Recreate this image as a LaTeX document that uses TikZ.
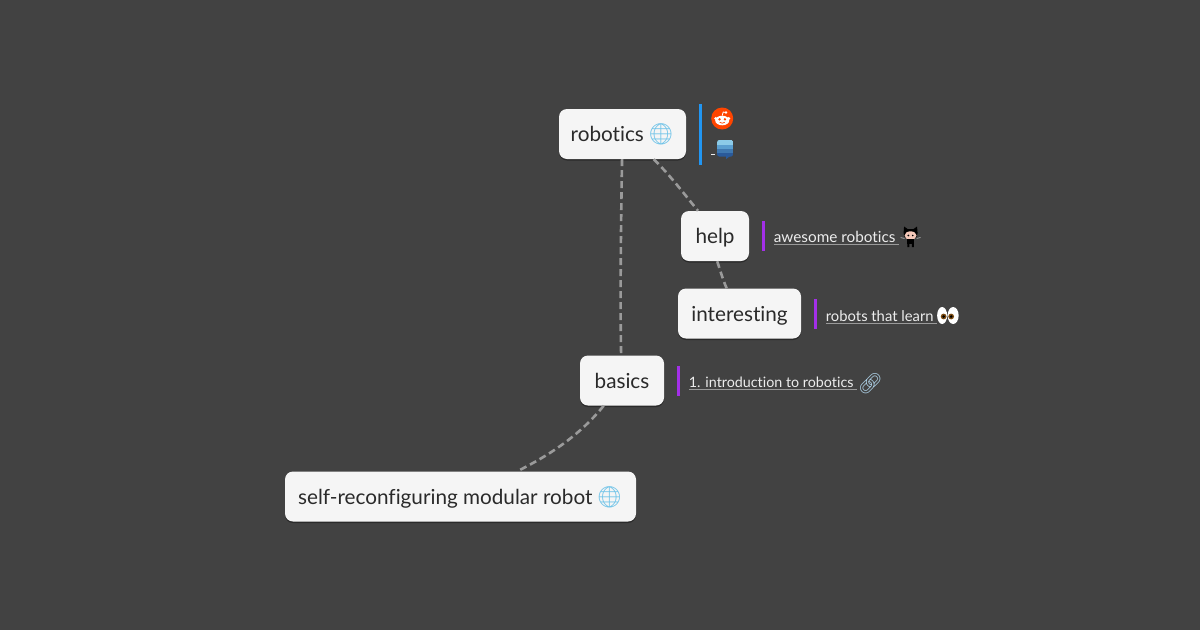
\documentclass[tikz,border=0pt]{standalone}
\usepackage{fontspec}
\setmainfont{Lato}[Ligatures=NoCommon]
\newfontfamily\emojifont{Noto Emoji}
\usetikzlibrary{calc,positioning,shadows}
\definecolor{bgdark}{HTML}{424242}
\definecolor{boxfill}{HTML}{F5F5F5}
\definecolor{boxtext}{HTML}{2A2A2A}
\definecolor{edgegray}{HTML}{9A9A9A}
\definecolor{barblue}{HTML}{2196F3}
\definecolor{barpurple}{HTML}{A32FE8}
\definecolor{linktext}{HTML}{EDEDED}
\definecolor{globeblue}{HTML}{6FC3E8}
\definecolor{chainblue}{HTML}{A9CBE0}
\definecolor{redditred}{HTML}{FF4500}
\definecolor{stackone}{HTML}{8CCBE8}
\definecolor{stacktwo}{HTML}{5B9FD0}
\definecolor{stackthree}{HTML}{3F78B0}
\definecolor{stackfour}{HTML}{2A5A9A}
\definecolor{catskin}{HTML}{F5C8B9}
\definecolor{eyebrown}{HTML}{7A4A10}
\newcommand{\linklabel}[1]{\textcolor{edgegray}{\underline{\textcolor{linktext}{#1}}}}
\newcommand{\globemark}{\kern-1.5pt{\emojifont\fontsize{21}{25}\selectfont\textcolor{globeblue}{🌐}}}
\tikzset{
  topic/.style={draw=none, fill=boxfill, rounded corners=8pt, text=boxtext,
    font=\fontsize{20.7}{25}\selectfont, minimum height=50pt, inner sep=0pt,
    text height=20pt, text depth=5pt,
    drop shadow={shadow xshift=0pt, shadow yshift=-1.5pt, opacity=0.35, fill=black}},
  bluebar/.style={fill=barblue, minimum width=2.6pt, minimum height=61pt, inner sep=0pt},
  notebar/.style={fill=barpurple, minimum width=2.6pt, minimum height=30pt, inner sep=0pt},
  linknode/.style={text=linktext, inner sep=0pt, font=\fontsize{#1}{18}\selectfont},
  linknode/.default=15,
  emoji/.style={inner sep=0pt, font=\emojifont\fontsize{20}{24}\selectfont},
  branch/.style={draw=edgegray, line width=2.6pt, dash pattern=on 7pt off 4pt},
  redditicon/.pic={
    \fill [redditred] (0,0) circle (11);
    \draw [white, line width=0.8pt] (0,-3) -- (1,-6.5) -- (3.5,-6);
    \fill [white] (3.8,-6) circle (1.3);
    \fill [white] (-6.5,0) circle (1.7) (6.5,0) circle (1.7);
    \fill [white] (0,2) ellipse (7 and 4.8);
    \fill [redditred] (-2.7,0.8) circle (1.3) (2.7,0.8) circle (1.3);
    \draw [line width=0.7pt, redditred] (-2.5,3.8) .. controls (-1,5) and (1,5) .. (2.5,3.8);
  },
  stackicon/.pic={
    \fill [stackfour] (1,8) -- (5,8) -- (1,11) -- cycle;
    \begin{scope}
      \clip [rounded corners=2pt] (-8,-8) rectangle (8,8.5);
      \fill [stackone] (-8,-9) rectangle (8,-3);
      \fill [stacktwo] (-8,-3) rectangle (8,1);
      \fill [stackthree] (-8,1) rectangle (8,5);
      \fill [stackfour] (-8,5) rectangle (8,9);
    \end{scope}
  },
  octocaticon/.pic={
    \draw [gray!80, line width=0.9pt] (-10,0.5) -- (-6,1.5) (10,0.5) -- (6,1.5);
    \fill [black] (-6.5,-10.5) -- (-3,-8) -- (3,-8) -- (6.5,-10.5) -- (7,-4) -- (6,0) -- (-6,0) -- (-7,-4) -- cycle;
    \fill [catskin] (0,-1.5) ellipse (6 and 4.2);
    \fill [black] (-2.2,-1.5) circle (0.9) (2.2,-1.5) circle (0.9);
    \fill [black] (-3.5,2) rectangle (3.5,6.5);
    \fill [black] (-3.2,6) rectangle (-1.2,10) (1.2,6) rectangle (3.2,10);
  },
  eyesicon/.pic={
    \fill [white] (-5.5,0) ellipse (5 and 8.5) (5.5,0) ellipse (5.5 and 8.5);
    \fill [eyebrown] (-4,1) circle (2.9) (3.5,1) circle (2.9);
    \fill [black] (-4,1) circle (1.4) (3.5,1) circle (1.4);
  }
}
\begin{document}
\begin{tikzpicture}[x=1pt,y=-1pt]
  \useasboundingbox[fill=bgdark] (0,0) rectangle (1200,630);
  % topics
  \node [topic, minimum width=127pt] (robotics) at (622.5,134) {robotics \globemark};
  \node [topic, minimum width=68pt] (help) at (715,236) {help};
  \node [topic, minimum width=123pt] (interesting) at (739.5,313.5) {interesting};
  \node [topic, minimum width=84pt] (basics) at (622,380.5) {basics};
  \node [topic, minimum width=351pt] (selfmod) at (460.5,496.5) {self-reconfiguring modular robot \globemark};
  % branches
  \draw [branch] (robotics.-91) .. controls (621,220) and (620,300) .. (basics.92);
  \draw [branch] (robotics.-39) .. controls (670,175) and (685,195) .. (help.124);
  \draw [branch] (help.-85) .. controls (720,270) and (723,280) .. (interesting.117);
  \draw [branch] (basics.234) .. controls (580,435) and (550,455) .. (selfmod.24);
  % notes
  \node [bluebar, right=13pt of robotics] (robotbar) {};
  \node [notebar, right=13pt of help] (helpbar) {};
  \node [notebar, right=13pt of interesting] (interbar) {};
  \node [notebar, right=13pt of basics] (basicbar) {};
  \node [linknode=15.3, right=8.5pt of helpbar, yshift=-2pt] (awesome) {\linklabel{awesome robotics~}};
  \node [linknode=14.8, right=8.5pt of interbar, yshift=-4pt] (learn) {\linklabel{robots that learn~}};
  \node [linknode=14.3, right=8.5pt of basicbar, yshift=-3pt] (intro) {\linklabel{1. introduction to robotics~}};
  \node [emoji, text=chainblue, right=0pt of intro] (chain) {🔗};
  \node [linknode, right=8.5pt of robotbar, yshift=-20pt] (stacklink) {\underline{~}};
  % icons
  \coordinate [right=20pt of robotbar, yshift=15.5pt] (redditspot);
  \coordinate [right=23pt of robotbar, yshift=-14pt] (stackspot);
  \coordinate [right=11pt of awesome, yshift=1pt] (octospot);
  \coordinate [right=10pt of learn, yshift=2pt] (eyespot);
  \pic at (redditspot) {redditicon};
  \pic at (stackspot) {stackicon};
  \pic at (octospot) {octocaticon};
  \pic at (eyespot) {eyesicon};
\end{tikzpicture}
\end{document}
